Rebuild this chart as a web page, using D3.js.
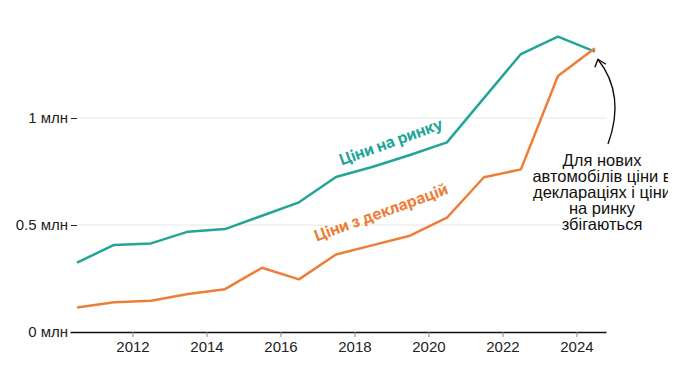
<!DOCTYPE html>
<html>
    <head>
        <script src="https://d3js.org/d3.v7.min.js"></script>
        <style>
            body { margin: 0; background: #fff; }
            #myCanvas { width: 668px; height: 372px; display: block; overflow: hidden; }
            .tick text { font-family: "Liberation Sans", Arial, sans-serif; font-size: 15px; fill: #222; }
        </style>
    </head>
    <body>
        <svg id="myCanvas"></svg>
        <script>
            // years (points sit in the middle of each year)
            var years = [2010, 2011, 2012, 2013, 2014, 2015, 2016, 2017, 2018, 2019, 2020, 2021, 2022, 2023, 2024];
            // million UAH
            var marketPrices = [0.324, 0.407, 0.414, 0.469, 0.481, 0.543, 0.606, 0.724, 0.772, 0.827, 0.886, 1.093, 1.299, 1.380, 1.310];
            var declaredPrices = [0.114, 0.139, 0.146, 0.178, 0.200, 0.300, 0.246, 0.362, 0.406, 0.450, 0.534, 0.723, 0.760, 1.196, 1.326];
            var xTicks = [2012, 2014, 2016, 2018, 2020, 2022, 2024];
            var yTicks = [0, 0.5, 1];
            var noteLines = ["Для нових", "автомобілів ціни в", "деклараціях і ціни", "на ринку", "збігаються"];

            var teal = "#22a597", orange = "#ee7d38";

            var svg = d3.select("#myCanvas");
            var x = d3.scaleLinear([2010.31, 2024.8], [70, 606]);
            var y = d3.scaleLinear([0, 1], [332, 118]);
            var left = x(2010.5);

            // gridlines
            svg.append("g")
                .selectAll("line")
                .data(yTicks.filter(d => d > 0))
                .join("line")
                .attr("x1", left).attr("x2", x.range()[1])
                .attr("y1", d => y(d)).attr("y2", d => y(d))
                .attr("stroke", "#e6e6e6");

            // y axis
            var yAxis = svg.append("g")
                .attr("transform", "translate(" + left + ",0)")
                .call(d3.axisLeft(y).tickValues(yTicks).tickSize(6).tickPadding(3)
                    .tickFormat(d => d + " млн"));
            yAxis.select(".domain").remove();
            yAxis.selectAll(".tick line").attr("stroke", "#222");

            // x axis
            var xAxis = svg.append("g")
                .attr("transform", "translate(0," + y(0) + ")")
                .call(d3.axisBottom(x).tickValues(xTicks).tickSize(5).tickSizeOuter(0).tickPadding(4)
                    .tickFormat(d3.format("d")));
            xAxis.select(".domain").attr("stroke", "#111").attr("stroke-width", 1.3);
            xAxis.selectAll(".tick line").attr("stroke", "#888");

            var line = d3.line()
                .x((d, i) => x(years[i] + 0.5))
                .y(d => y(d));

            svg.append("path")
                .attr("d", line(marketPrices))
                .attr("fill", "none").attr("stroke", teal).attr("stroke-width", 2.5)
                .attr("stroke-linejoin", "round");

            svg.append("path")
                .attr("d", line(declaredPrices))
                .attr("fill", "none").attr("stroke", orange).attr("stroke-width", 2.5)
                .attr("stroke-linejoin", "round");

            // series labels
            svg.append("text")
                .attr("transform", "translate(" + x(2019.04) + "," + y(0.865) + ") rotate(-20)")
                .attr("text-anchor", "middle")
                .style("font-family", "Inter, 'Noto Sans', sans-serif")
                .style("font-weight", 700).style("font-size", "15.5px")
                .attr("fill", teal)
                .text("Ціни на ринку");

            svg.append("text")
                .attr("transform", "translate(" + x(2018.77) + "," + y(0.535) + ") rotate(-20)")
                .attr("text-anchor", "middle")
                .style("font-family", "Inter, 'Noto Sans', sans-serif")
                .style("font-weight", 700).style("font-size", "15.5px")
                .attr("fill", orange)
                .text("Ціни з декларацій");

            // annotation
            svg.append("g")
                .selectAll("text")
                .data(noteLines)
                .join("text")
                .attr("x", 602)
                .attr("y", (d, i) => 165.5 + i * 16.2)
                .attr("text-anchor", "middle")
                .style("font-family", "'Liberation Sans', Arial, sans-serif")
                .style("font-size", "16.5px")
                .attr("fill", "#111")
                .text(d => d);

            var tip = [x(2024.5) + 3, y(1.326) + 11];
            svg.append("path")
                .attr("d", "M608,144 Q626,95 " + tip[0] + "," + tip[1])
                .attr("fill", "none").attr("stroke", "#111").attr("stroke-width", 1.4);
            svg.append("path")
                .attr("d", "M" + (tip[0] - 3) + "," + (tip[1] + 8) + " L" + tip[0] + "," + tip[1] + " L" + (tip[0] + 8) + "," + (tip[1] + 5))
                .attr("fill", "none").attr("stroke", "#111").attr("stroke-width", 1.4)
                .attr("stroke-linejoin", "round");
        </script>
    </body>
</html>
